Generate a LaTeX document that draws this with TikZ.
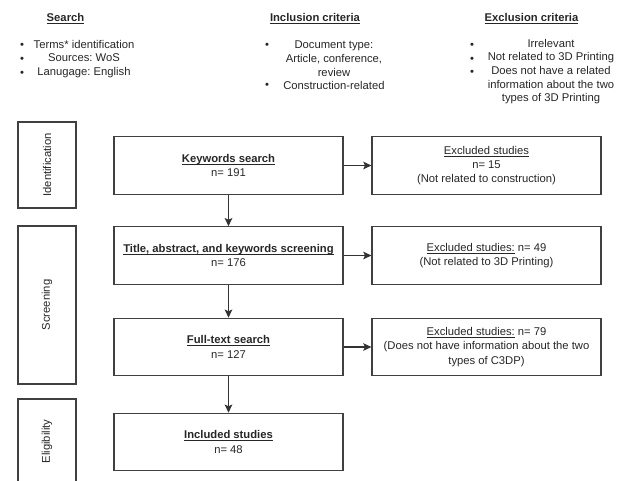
\documentclass[tikz,border=0pt]{standalone}
\usepackage{fontspec}
\setmainfont{Liberation Sans}
\usetikzlibrary{arrows.meta,positioning}
\frenchspacing
\newcommand{\flowfont}{\fontsize{9.6}{12.2}\selectfont}
\newcommand{\listfont}{\fontsize{9.6}{11.7}\selectfont}
\newcommand{\ulhead}[1]{\underline{\raisebox{0pt}[\height][0pt]{#1}}}

\begin{document}
\begin{tikzpicture}[
    stage/.style={draw=black!75,line width=1pt,minimum width=6.87cm,minimum height=1.72cm,align=center,font=\flowfont,text=black!85},
    excluded/.style={draw=black!75,line width=1pt,minimum width=6.87cm,minimum height=1.72cm,align=center,font=\flowfont,text=black!85},
    phase/.style={draw=black!75,line width=1pt,rotate=90,minimum height=1.74cm,font=\flowfont,text=black!85},
    heading/.style={font=\flowfont\bfseries,text=black!85},
    listtext/.style={align=center,font=\listfont,text=black!85},
    bulletmark/.style={font=\listfont,text=black!85,inner sep=0pt},
    flow/.style={-{Stealth[length=7pt,width=6.5pt,inset=1.5pt]},line width=1pt,black!80}
  ]
    \useasboundingbox (0,0) rectangle (18.78,-14.43);

    % Column headings
    \node[heading] (search) at (1.965,-0.57) {\ulhead{Search}};
    \node[heading] (inclhead) at (9.45,-0.57) {\ulhead{Inclusion criteria}};
    \node[heading] (exclhead) at (15.945,-0.57) {\ulhead{Exclusion criteria}};

    % Search list
    \node[bulletmark] (sb1) at (0.66,-1.38) {\textbullet};
    \node[bulletmark] (sb2) at (0.66,-1.80) {\textbullet};
    \node[bulletmark] (sb3) at (0.66,-2.22) {\textbullet};
    \node[listtext] (searchlist) at (2.52,-1.77) {Terms* identification\\Sources: WoS\\Lanugage: English};

    % Inclusion list
    \node[bulletmark] (ib1) at (8.01,-1.38) {\textbullet};
    \node[bulletmark] (ib2) at (8.01,-2.59) {\textbullet};
    \node[listtext] (incllist) at (10.02,-1.96) {Document type:\\Article, conference,\\review\\Construction-related};

    % Exclusion list
    \node[bulletmark] (eb1) at (14.16,-1.38) {\textbullet};
    \node[bulletmark] (eb2) at (14.16,-1.79) {\textbullet};
    \node[bulletmark] (eb3) at (14.16,-2.20) {\textbullet};
    \node[listtext] (excllist) at (16.53,-2.15) {Irrelevant\\Not related to 3D Printing\\Does not have a related\\information about the two\\types of 3D Printing};

    % Phase boxes (on the left)
    \node[phase,minimum width=2.58cm] (ident) at (1.41,-4.95) {Identification};
    \node[phase,minimum width=4.74cm] (screen) at (1.41,-9.15) {Screening};
    \node[phase,minimum width=2.55cm] (elig) at (1.41,-13.245) {Eligibility};

    % Main flow
    \node[stage] (keyw) at (6.855,-4.965) {\ulhead{\textbf{Keywords search}}\\n= 191};
    \node[stage] (title) at (6.855,-7.665) {\ulhead{\textbf{Title, abstract, and keywords screening}}\\n= 176};
    \node[stage] (full) at (6.855,-10.41) {\ulhead{\textbf{Full-text search}}\\n= 127};
    \node[stage] (incl) at (6.855,-13.26) {\ulhead{\textbf{Included studies}}\\n= 48};

    % Excluded studies
    \node[excluded] (exc1) at (14.595,-4.965) {\ulhead{Excluded studies}\\n= 15\\(Not related to construction)};
    \node[excluded] (exc2) at (14.595,-7.665) {\ulhead{Excluded studies:} n= 49\\(Not related to 3D Printing)};
    \node[excluded] (exc3) at (14.595,-10.41) {\ulhead{Excluded studies:} n= 79\\(Does not have information about the two\\types of C3DP)};

    % Connections
    \draw[flow] (keyw) -- (title);
    \draw[flow] (title) -- (full);
    \draw[flow] (full) -- (incl);
    \draw[flow] (keyw) -- (exc1);
    \draw[flow] (title) -- (exc2);
    \draw[flow] (full) -- (exc3);
  \end{tikzpicture}
\end{document}
